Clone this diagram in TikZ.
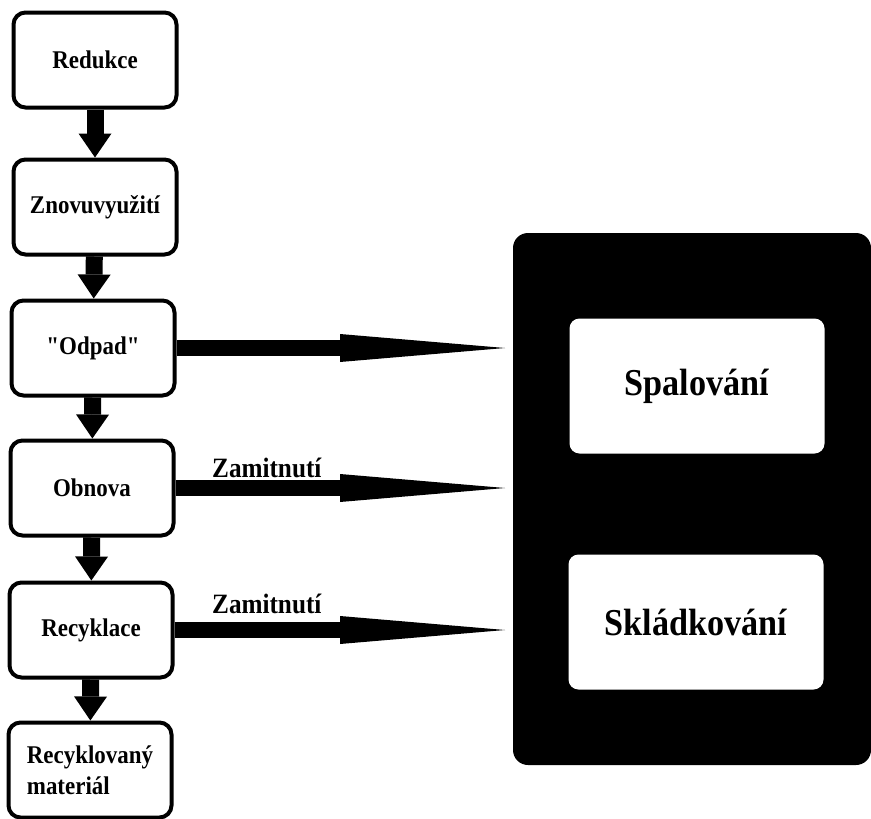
\documentclass[tikz,border=0pt]{standalone}
\usepackage{fontspec}
\setmainfont{Liberation Serif}[FakeStretch=0.9, Ligatures=TeXOff]
\usetikzlibrary{arrows.meta}
\tikzset{
  stage/.style={draw, line width=4pt, rounded corners=12pt, fill=white,
    minimum width=163pt, minimum height=95pt, inner sep=0pt,
    font=\fontsize{25.5}{31}\selectfont\bfseries},
  dest/.style={fill=white, rounded corners=10pt, minimum width=255pt,
    minimum height=135pt, inner sep=0pt, font=\fontsize{38}{44}\selectfont\bfseries},
  down/.style={line width=17pt, -{Triangle[width=33pt,length=24pt,line width=0pt]}},
  reject/.style={line width=16pt, -{Triangle[width=28pt,length=165pt,line width=0pt]}},
  lbl/.style={anchor=base west, inner sep=0pt, font=\fontsize{28}{32}\selectfont\bfseries}
}
\begin{document}
\begin{tikzpicture}[x=1pt,y=-1pt]
    \useasboundingbox (0,0) rectangle (871,819);
    % left column
    \node[stage] (redukce) at (95,60) {Redukce};
    \node[stage] (znovu) at (95,207) {Znovuvyužití};
    \node[stage] (odpad) at (93,348) {"Odpad"};
    \node[stage] (obnova) at (92,488) {Obnova};
    \node[stage] (recyklace) at (91,630) {Recyklace};
    \node[stage, align=left] (material) at (90,770) {Recyklovaný\\materiál};
    \draw[down] (redukce) -- (znovu);
    \draw[down] (znovu) -- (odpad);
    \draw[down] (odpad) -- (obnova);
    \draw[down] (obnova) -- (recyklace);
    \draw[down] (recyklace) -- (material);
    % right panel
    \fill[rounded corners=15pt] (513,233) rectangle (871,765);
    \node[dest] (spal) at (697,386) {Spalování};
    \node[dest] (sklad) at (696,622) {Skládkování};
    \coordinate (tip) at (505,0);
    \draw[reject] (odpad.east) -- (odpad.east -| tip);
    \draw[reject] (obnova.east) -- (obnova.east -| tip);
    \draw[reject] (recyklace.east) -- (recyklace.east -| tip);
    \node[lbl] (zam1) at (212,477) {Zamitnutí};
    \node[lbl] (zam2) at (212,613) {Zamitnutí};
\end{tikzpicture}
\end{document}
